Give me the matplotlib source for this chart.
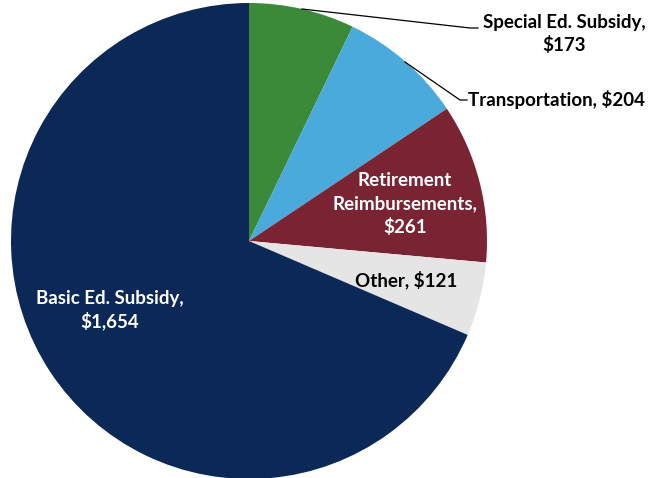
import matplotlib.pyplot as plt

# Data
labels = ["Special Ed. Subsidy", "Transportation", "Retirement\nReimbursements", "Other", "Basic Ed. Subsidy"]
values = [173, 204, 261, 121, 1654]
colors = ["#3A8A3A", "#4AAADB", "#7A2333", "#E5E5E5", "#0C2857"]

plt.rcParams['font.family'] = ['Lato', 'DejaVu Sans']

fig = plt.figure(figsize=(6.68, 4.78), dpi=100)
ax = fig.add_axes([0, 0, 1, 1])

cx, cy, r = 249, 237, 238
ax.pie(values, colors=colors, startangle=90, counterclock=False,
       center=(cx, cy), radius=r, frame=True,
       wedgeprops=dict(linewidth=0))
ax.set_xlim(0, 668)
ax.set_ylim(0, 478)
ax.set_aspect('equal')
ax.axis('off')

fs = 13.5
# outside labels with leader lines
ax.plot([302, 470, 478], [478 - 9, 478 - 28, 478 - 28], color="black", lw=0.9)
ax.text(564, 478 - 34, "Special Ed. Subsidy,\n$173", ha="center", va="center",
        fontsize=fs, fontweight="bold", linespacing=1.35)
ax.plot([405, 460, 467], [478 - 62, 478 - 100, 478 - 100], color="black", lw=0.9)
ax.text(468, 478 - 99, "Transportation, $204", ha="left", va="center",
        fontsize=fs, fontweight="bold")

# inside labels
ax.text(405, 478 - 204, "Retirement\nReimbursements,\n$261", ha="center", va="center",
        fontsize=fs, fontweight="bold", color="white", linespacing=1.38)
ax.text(406, 478 - 280, "Other, $121", ha="center", va="center",
        fontsize=fs, fontweight="bold", color="black")
ax.text(110, 478 - 310, "Basic Ed. Subsidy,\n$1,654", ha="center", va="center",
        fontsize=fs, fontweight="bold", color="white", linespacing=1.3)

fig.savefig("out.png", dpi=100)
